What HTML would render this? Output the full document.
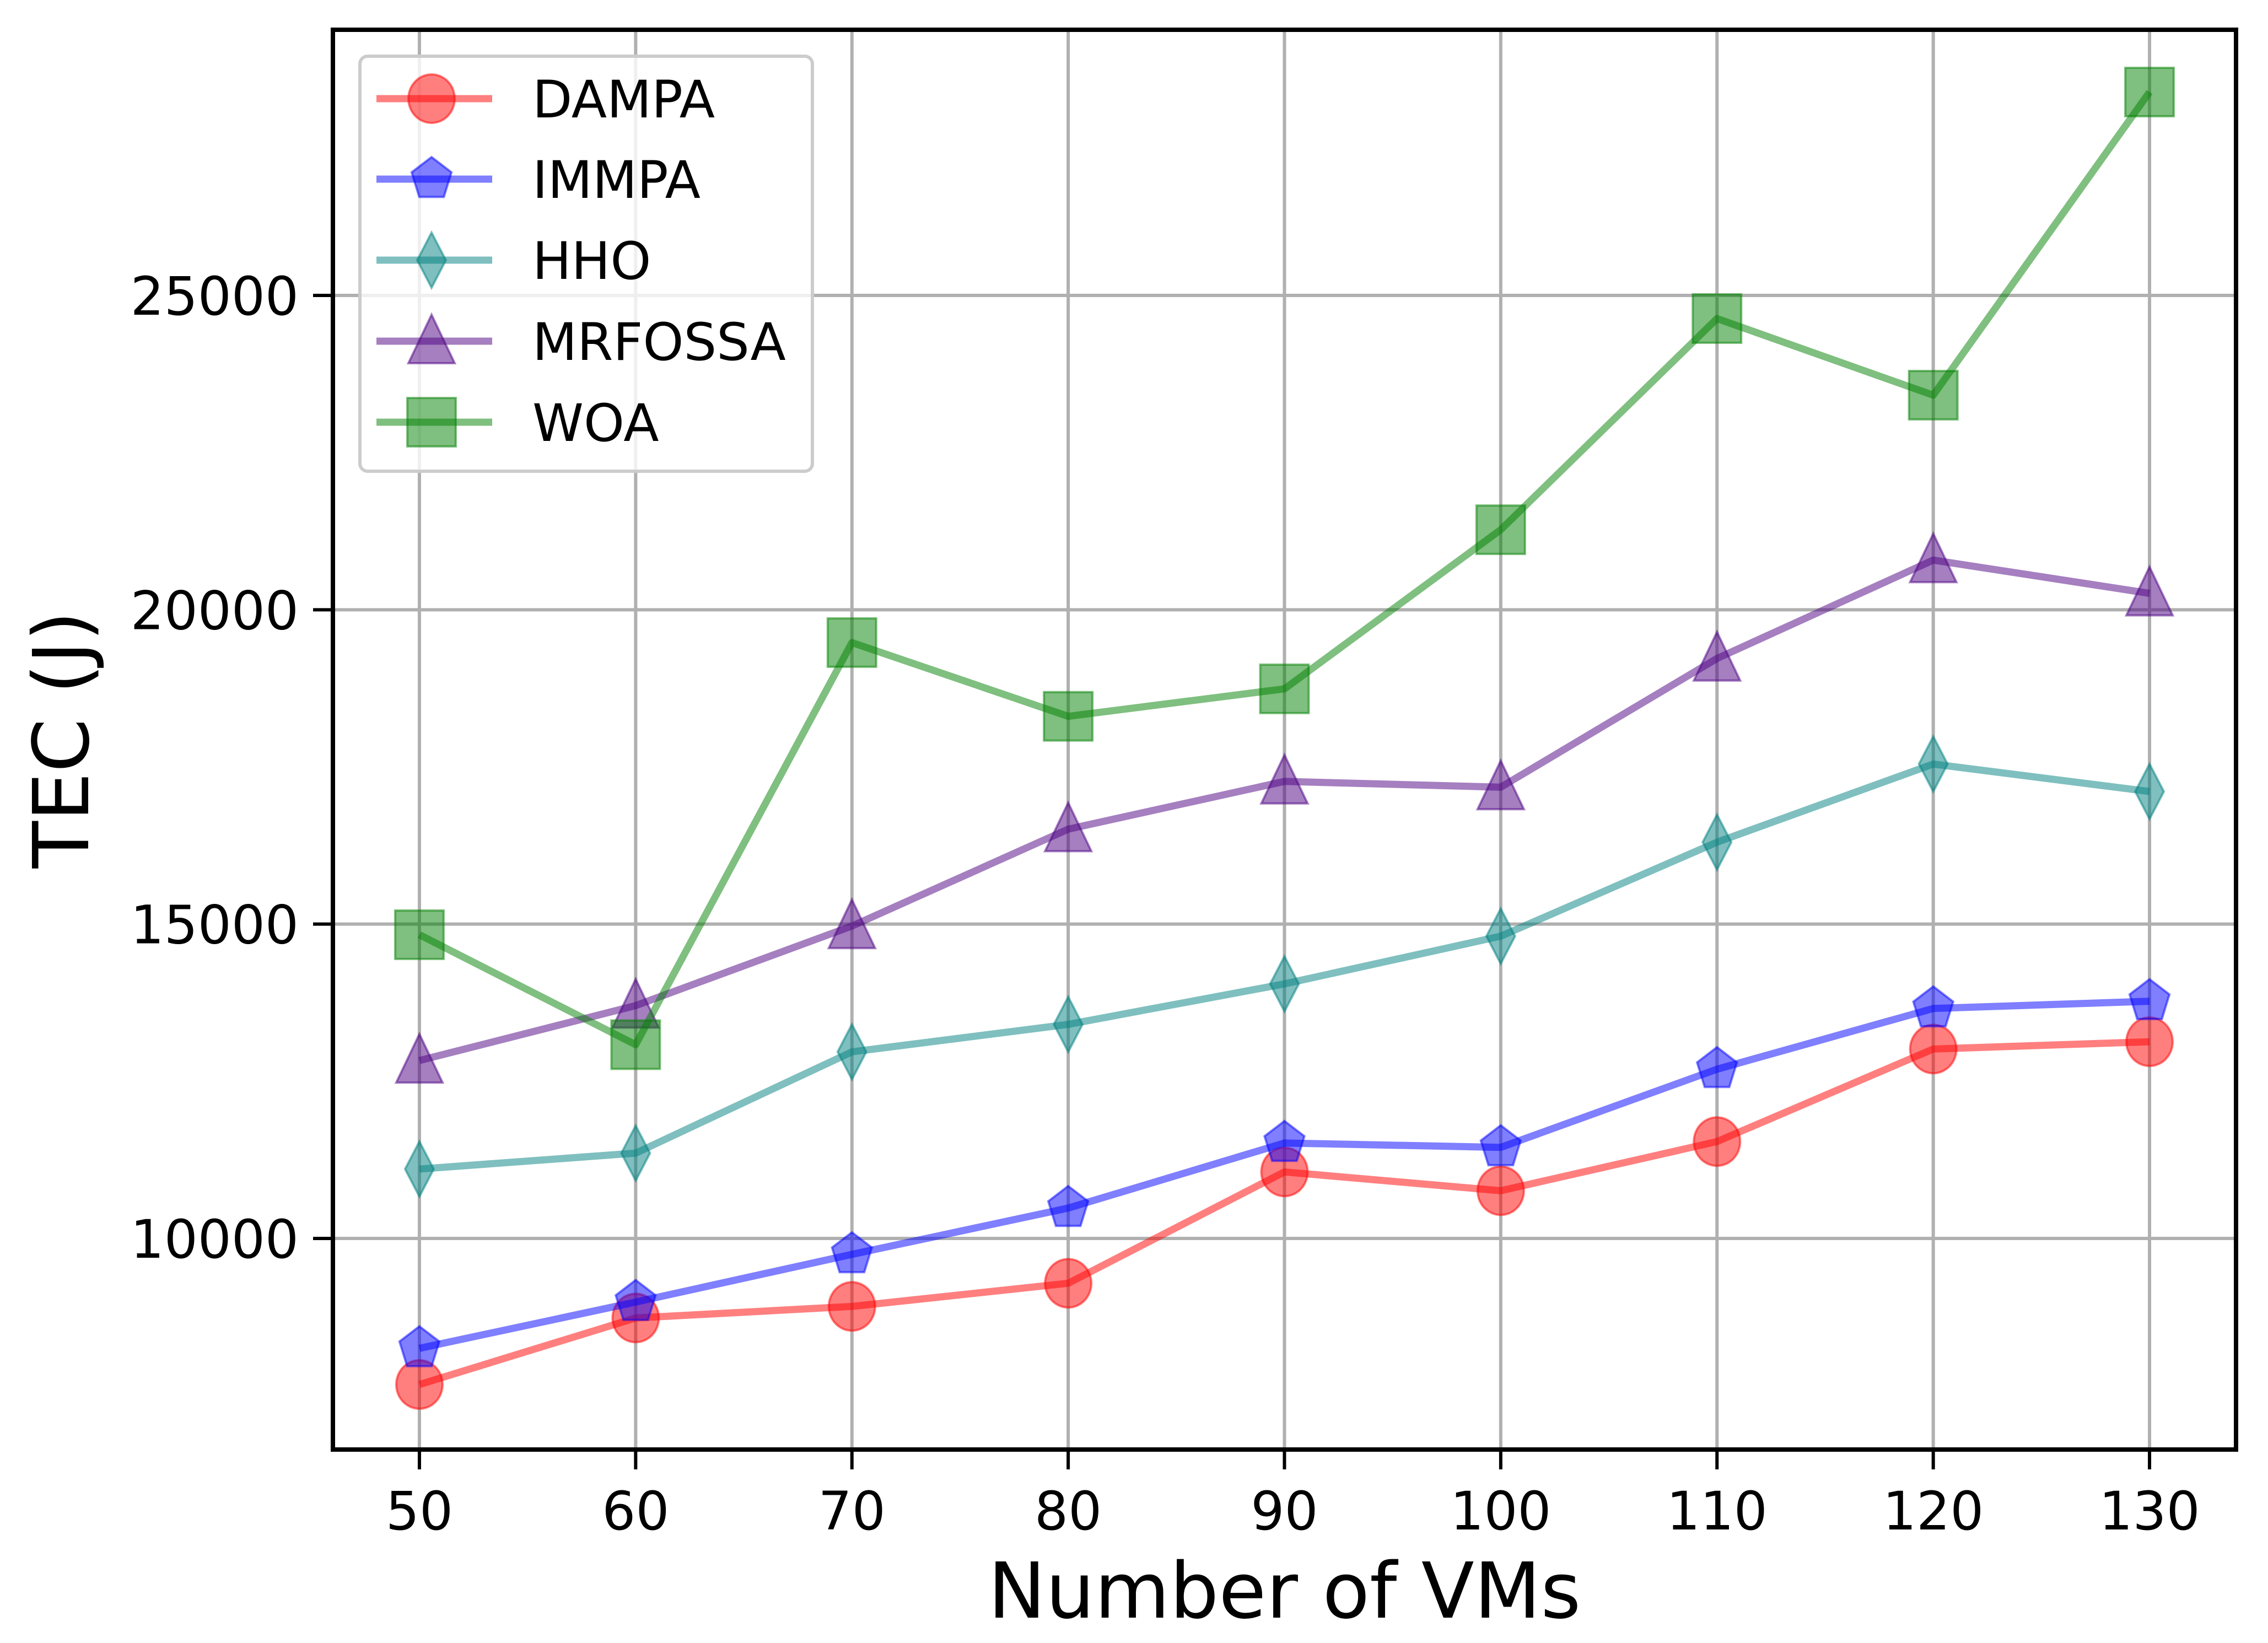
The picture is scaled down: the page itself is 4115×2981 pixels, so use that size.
<!DOCTYPE html>
<html><head><meta charset="utf-8"><style>
html,body{margin:0;padding:0;background:#fff;}
svg{display:block;font-family:"DejaVu Sans","Liberation Sans",sans-serif;}
</style></head><body>
<svg id="chart" width="4115" height="2981" viewBox="0 0 4115 2981" xmlns="http://www.w3.org/2000/svg">
<rect width="4115" height="2981" fill="#fff"/>
<g id="grid"></g>
<g id="series"></g>
<g id="axes"></g>
<g id="legend"></g>
</svg>
<script>
const categories = [50, 60, 70, 80, 90, 100, 110, 120, 130];
const dampa   = [7677, 8735, 8919, 9287, 11058, 10759, 11541, 13013, 13129];
const immpa   = [8252, 8988, 9747, 10483, 11518, 11449, 12692, 13658, 13773];
const hho     = [11104, 11357, 12968, 13405, 14049, 14808, 16303, 17546, 17109];
const mrfossa = [12830, 13704, 14969, 16510, 17270, 17178, 19225, 20790, 20261];
const woa     = [14831, 13082, 19478, 18305, 18742, 21273, 24632, 23413, 28235];
const yTicks = [10000, 15000, 20000, 25000];
const seriesNames = ["DAMPA", "IMMPA", "HHO", "MRFOSSA", "WOA"];

const NS = "http://www.w3.org/2000/svg";
const L = 604, R = 4057, T = 54, B = 2630;
const xMin = 46, xMax = 134;
const yRef1 = 10000, yPix1 = 2247, yRef2 = 25000, yPix2 = 536;
function xs(v){ return L + (v - xMin) / (xMax - xMin) * (R - L); }
function ys(v){ return yPix1 + (v - yRef1) * (yPix2 - yPix1) / (yRef2 - yRef1); }
function mk(tag, attrs, parent){ const e = document.createElementNS(NS, tag); for (const k in attrs) e.setAttribute(k, attrs[k]); parent.appendChild(e); return e; }

const grid = document.getElementById('grid');
const axes = document.getElementById('axes');
const ser = document.getElementById('series');
const leg = document.getElementById('legend');

categories.forEach(c => {
  const g = mk('line', {x1: xs(c), x2: xs(c), y1: T, y2: B, stroke: '#b0b0b0', 'stroke-width': 6}, grid);
  
  
  const t = mk('line', {x1: xs(c), x2: xs(c), y1: B, y2: B + 36, stroke: '#000', 'stroke-width': 6}, axes);
  
  
  const lb = mk('text', {x: xs(c), y: B + 145, 'text-anchor': 'middle', 'font-size': 96, fill: '#000'}, axes);
  lb.textContent = c;
  
  
});
yTicks.forEach(v => {
  const g = mk('line', {x1: L, x2: R, y1: ys(v), y2: ys(v), stroke: '#b0b0b0', 'stroke-width': 6}, grid);
  
  
  const t = mk('line', {x1: L - 36, x2: L, y1: ys(v), y2: ys(v), stroke: '#000', 'stroke-width': 6}, axes);
  
  
  const lb = mk('text', {x: L - 62, y: ys(v) + 35, 'text-anchor': 'end', 'font-size': 96, fill: '#000'}, axes);
  lb.textContent = v;
  
  
});
const frame = mk('rect', {x: L, y: T, width: R - L, height: B - T, fill: 'none', stroke: '#000', 'stroke-width': 8}, axes);


const xt = mk('text', {x: (L + R) / 2, y: 2935, 'text-anchor': 'middle', 'font-size': 140, fill: '#000'}, axes);
xt.textContent = 'Number of VMs';


const yt = mk('text', {x: 0, y: 0, 'text-anchor': 'middle', 'font-size': 140, fill: '#000', transform: 'translate(160,1342) rotate(-90)'}, axes);
yt.textContent = 'TEC (J)';



const colors = ['#ff0000', '#0000ff', '#008080', '#4b0082', '#008000'];
const shapes = ['circle', 'pentagon', 'diamond', 'triangle', 'square'];
const allData = [dampa, immpa, hho, mrfossa, woa];

function marker(shape, cx, cy, color, parent){
  let e;
  const s = 44;
  if (shape === 'circle') e = mk('ellipse', {cx: cx, cy: cy, rx: 42, ry: 44}, parent);
  else if (shape === 'square') e = mk('rect', {x: cx - s, y: cy - s, width: 2 * s, height: 2 * s}, parent);
  else {
    let pts = [];
    if (shape === 'diamond') pts = [[0, -50], [26, 0], [0, 50], [-26, 0]];
    else if (shape === 'triangle') pts = [[0, -48], [42, 40], [-42, 40]];
    else { for (let i = 0; i < 5; i++) { const a = -Math.PI / 2 + i * 2 * Math.PI / 5; pts.push([38 * Math.cos(a), 40 * Math.sin(a)]); } }
    e = mk('polygon', {points: pts.map(p => (cx + p[0]) + ',' + (cy + p[1])).join(' ')}, parent);
  }
  e.setAttribute('fill', color);
  e.setAttribute('fill-opacity', '0.5');
  e.setAttribute('stroke', color);
  e.setAttribute('stroke-opacity', '0.5');
  e.setAttribute('stroke-width', '4');
  return e;
}

allData.forEach((d, si) => {
  const g = mk('g', {}, ser);
  
  
  const pts = d.map((v, i) => xs(categories[i]) + ',' + ys(v)).join(' ');
  const pl = mk('polyline', {points: pts, fill: 'none', stroke: colors[si], 'stroke-opacity': 0.5, 'stroke-width': 13, 'stroke-linejoin': 'round'}, g);
  
  
  d.forEach((v, i) => {
    const m = marker(shapes[si], xs(categories[i]), ys(v), colors[si], g);
    
    
  });
});

const lb = mk('rect', {x: 653, y: 102, width: 821, height: 753, rx: 14, fill: '#fff', 'fill-opacity': 0.8, stroke: '#cccccc', 'stroke-width': 6}, leg);


const rowY = [179, 325, 472, 619, 766];
seriesNames.forEach((n, i) => {
  const g = mk('g', {}, leg);
  
  
  mk('line', {x1: 683, x2: 893, y1: rowY[i], y2: rowY[i], stroke: colors[i], 'stroke-opacity': 0.5, 'stroke-width': 13}, g);
  marker(shapes[i], 783, rowY[i], colors[i], g);
  const t = mk('text', {x: 966, y: rowY[i] + 34, 'font-size': 94, fill: '#000'}, g);
  t.textContent = n;
  
  
});
</script>
</body></html>
